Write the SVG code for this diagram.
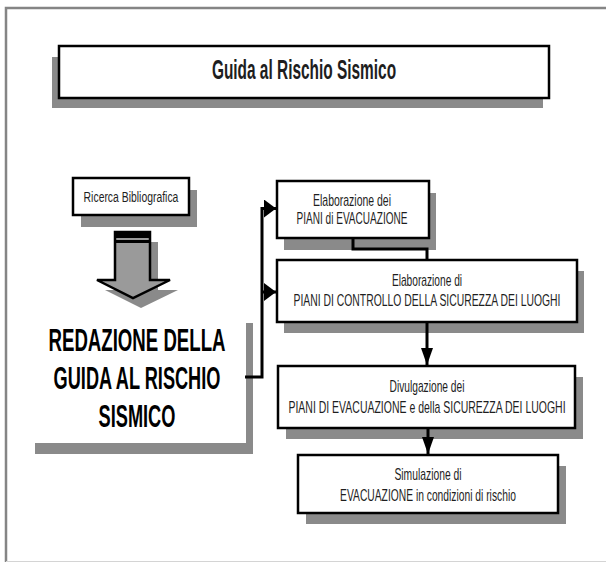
<svg xmlns="http://www.w3.org/2000/svg" width="606" height="563" viewBox="0 0 606 563">
<style>
.shadow{fill:#8a8a8a;stroke:none}
.box{fill:#fff;stroke:#000;stroke-width:2.5}
.t{font-family:"Liberation Sans",Arial,sans-serif;fill:#1e1e1e;text-anchor:middle}
.s{font-size:16px}
.big{font-size:31px;font-weight:bold;fill:#000}
.conn{fill:none;stroke:#000;stroke-width:3}
</style>
<defs>
<marker id="ah" viewBox="0 0 12 18" refX="12" refY="9" markerWidth="12" markerHeight="18" markerUnits="userSpaceOnUse" orient="auto">
<path d="M0,0 L12,9 L0,18 Z" fill="#000"/>
</marker>
<marker id="av" viewBox="0 0 17 12" refX="17" refY="6" markerWidth="17" markerHeight="12" markerUnits="userSpaceOnUse" orient="auto">
<path d="M0,0 L17,6 L0,12 Z" fill="#000"/>
</marker>
</defs>
<rect width="606" height="563" fill="#fff"/>
<g id="frame">
<path d="M6,562 V8 H606" fill="none" stroke="#858585" stroke-width="2.5"/>
<line x1="6" y1="561.5" x2="606" y2="561.5" stroke="#d4d4d4" stroke-width="1"/>
</g>
<g id="title">
<rect class="shadow" x="52" y="57" width="491" height="51"/>
<rect class="box" x="59" y="46" width="490" height="52"/>
<text class="t" transform="translate(304,79) scale(0.6,1)" x="0" y="0" font-size="28" font-weight="bold" fill="#000" textLength="307" lengthAdjust="spacingAndGlyphs">Guida al Rischio Sismico</text>
</g>
<g id="ricerca">
<rect class="shadow" x="81" y="190" width="116" height="37"/>
<rect class="box" x="73" y="178" width="116" height="37"/>
<text class="t" transform="translate(131,202) scale(0.6,1)" x="0" y="0" font-size="15" textLength="158" lengthAdjust="spacingAndGlyphs">Ricerca Bibliografica</text>
</g>
<g id="blockarrow">
<polygon class="shadow" points="123,242 158,242 158,290 178,290 141,308 105,290 123,290"/>
<polygon points="115,232 150,232 150,280 170,280 133,298 97,280 115,280" fill="#9a9a9a" stroke="#000" stroke-width="2.5" stroke-linejoin="miter"/>
<rect x="115" y="232" width="35" height="6" fill="#000"/>
<rect x="115" y="240" width="35" height="3" fill="#000"/>
</g>
<g id="redazione">
<path class="shadow" d="M246,323 H253 V454 H35 V443 H246 Z"/>
<text class="t big" transform="translate(137,351) scale(0.6,1)" x="0" y="0" textLength="295" lengthAdjust="spacingAndGlyphs">REDAZIONE DELLA</text>
<text class="t big" transform="translate(137,389) scale(0.6,1)" x="0" y="0" textLength="278" lengthAdjust="spacingAndGlyphs">GUIDA AL RISCHIO</text>
<text class="t big" transform="translate(137,427) scale(0.6,1)" x="0" y="0" textLength="128" lengthAdjust="spacingAndGlyphs">SISMICO</text>
</g>
<g id="n1">
<rect class="shadow" x="284" y="193" width="152" height="57"/>
<rect class="box" x="277" y="181" width="152" height="57"/>
<text class="t s" transform="translate(352,206) scale(0.6,1)" x="0" y="0" textLength="130" lengthAdjust="spacingAndGlyphs">Elaborazione dei</text>
<text class="t s" transform="translate(352,224) scale(0.6,1)" x="0" y="0" textLength="185" lengthAdjust="spacingAndGlyphs">PIANI di EVACUAZIONE</text>
</g>
<g id="n2">
<rect class="shadow" x="284" y="271" width="300" height="62"/>
<rect class="box" x="277" y="260" width="300" height="62"/>
<text class="t s" transform="translate(427,286) scale(0.6,1)" x="0" y="0" textLength="117" lengthAdjust="spacingAndGlyphs">Elaborazione di</text>
<text class="t s" transform="translate(427,306) scale(0.6,1)" x="0" y="0" textLength="445" lengthAdjust="spacingAndGlyphs">PIANI DI CONTROLLO DELLA SICUREZZA DEI LUOGHI</text>
</g>
<g id="n3">
<rect class="shadow" x="286" y="377" width="297" height="62"/>
<rect class="box" x="278" y="366" width="297" height="62"/>
<text class="t s" transform="translate(427,392) scale(0.6,1)" x="0" y="0" textLength="125" lengthAdjust="spacingAndGlyphs">Divulgazione dei</text>
<text class="t s" transform="translate(427,413) scale(0.6,1)" x="0" y="0" textLength="462" lengthAdjust="spacingAndGlyphs">PIANI DI EVACUAZIONE  e della SICUREZZA DEI LUOGHI</text>
</g>
<g id="n4">
<rect class="shadow" x="306" y="466" width="260" height="58"/>
<rect class="box" x="298" y="455" width="260" height="58"/>
<text class="t s" transform="translate(428,480) scale(0.6,1)" x="0" y="0" textLength="112" lengthAdjust="spacingAndGlyphs">Simulazione di</text>
<text class="t s" transform="translate(428,501) scale(0.6,1)" x="0" y="0" textLength="293" lengthAdjust="spacingAndGlyphs">EVACUAZIONE in condizioni di rischio</text>
</g>
<g id="connectors">
<path class="conn" d="M245,377 H262 V208.5 H276" marker-end="url(#ah)"/>
<path class="conn" d="M262,292 H276" marker-end="url(#ah)"/>
<path class="conn" d="M353,238 V249 H427 V260"/>
<path class="conn" d="M427,322 V365" marker-end="url(#av)"/>
<path class="conn" d="M428,428 V454" marker-end="url(#av)"/>
</g>
</svg>
